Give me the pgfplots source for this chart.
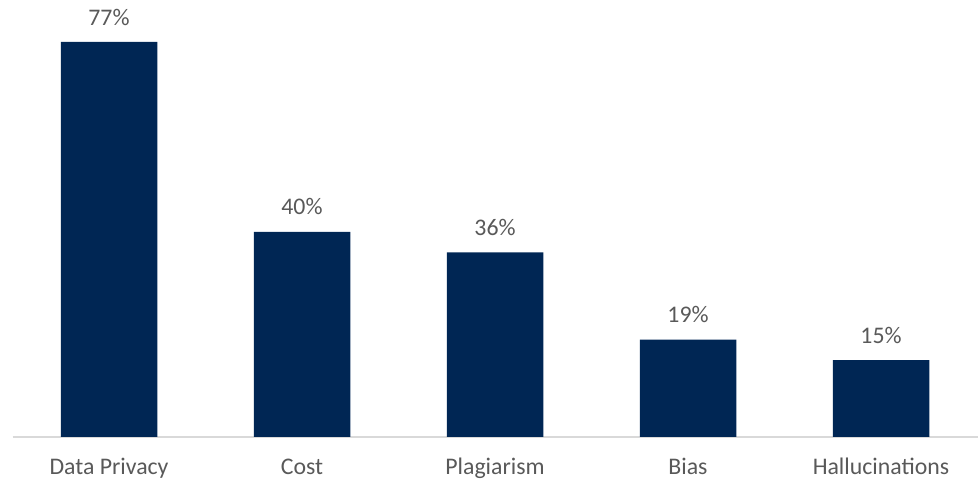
\documentclass[border=0pt]{standalone}
\usepackage{pgfplots}
\pgfplotsset{compat=1.18}
\usepackage{fontspec}
\setmainfont{Carlito}
\definecolor{barblue}{RGB}{0,38,84}
\definecolor{txt}{RGB}{89,89,89}
\definecolor{axgray}{RGB}{217,217,217}
\begin{document}
\begin{tikzpicture}
\path[use as bounding box] (0,0) rectangle (980pt,486pt);
\begin{axis}[
  at={(12.5pt,49pt)}, anchor=south west,
  width=965pt, height=410.4pt, scale only axis,
  xmin=-0.5, xmax=4.5, ymin=0, ymax=80,
  enlargelimits=false, clip=false,
  /pgf/number format/assume math mode=true,
  ybar, bar width=0.5,
  axis y line=none, axis x line=bottom,
  x axis line style={-, draw=axgray, line width=1.2pt},
  xtick={0,1,2,3,4},
  xticklabels={Data Privacy,Cost,Plagiarism,Bias,Hallucinations},
  major tick length=0pt,
  xtick style={draw=none},
  xticklabel style={anchor=base, inner sep=0pt, yshift=-37.5pt, font=\fontsize{23.8}{28}\selectfont, text=txt},
  nodes near coords={\pgfmathprintnumber[assume math mode=true]{\pgfplotspointmeta}\%},
  every node near coord/.append style={anchor=south, inner sep=0pt, yshift=16.5pt, font=\fontsize{23.8}{28}\selectfont, text=txt},
]
\addplot[fill=barblue, draw=none] coordinates {(0,77) (1,40) (2,36) (3,19) (4,15)};
\end{axis}
\end{tikzpicture}
\end{document}
